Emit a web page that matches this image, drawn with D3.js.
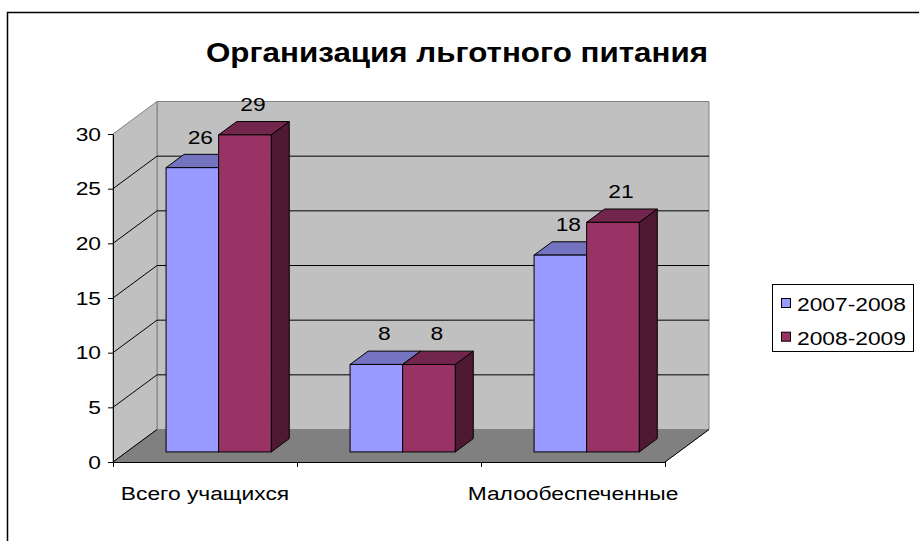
<!DOCTYPE html>
<html lang="ru">
<head>
<meta charset="utf-8">
<title>Организация льготного питания</title>
<script src="https://d3js.org/d3.v7.min.js"></script>
<style>
  body { margin: 0; background: #fff; }
  text { font-family: "Liberation Sans", Arial, sans-serif; fill: #000; }
</style>
</head>
<body>
<script>
// data
const categories = ["Всего учащихся", "", "Малообеспеченные"];
const seriesNames = ["2007-2008", "2008-2009"];
const values2007 = [26, 8, 18];
const values2008 = [29, 8, 21];
const yTicks = [0, 5, 10, 15, 20, 25, 30];

const colors = [
  {front: "#9999ff", top: "#7373bf", side: "#4d4d80"},
  {front: "#993366", top: "#73264d", side: "#4d1933"}
];

const w = 919, h = 541;
// 3d depth offset of the whole plot
const DX = 44, DY = -32.5;
const zFront = 0.31, zBack = 0.72;
// the source picture is stretched sideways, so text is too
const SX = 1.2, FS = 19;

const svg = d3.select("body").append("svg")
  .attr("width", w).attr("height", h);

// helper: text stretched horizontally around its anchor
function label(g, x, y, str, anchor, size, sx) {
  return g.append("text")
    .attr("transform", `translate(${x},${y}) scale(${sx},1)`)
    .attr("text-anchor", anchor)
    .attr("font-size", size)
    .text(str);
}

// outer frame
svg.append("rect")
  .attr("x", 7.5).attr("y", 12.5)
  .attr("width", 930).attr("height", 560)
  .attr("fill", "#fff").attr("stroke", "#000").attr("stroke-width", 1.5);

label(svg, 457, 62, "Организация льготного питания", "middle", 28, 1.12)
  .attr("font-weight", "bold");

const yScale = d3.scaleLinear().domain([0, 30]).range([462, 134]);
const x0 = d3.scaleBand().domain(d3.range(categories.length)).range([113, 665]);
const x1 = d3.scaleBand().domain(d3.range(seriesNames.length))
  .range([0, x0.bandwidth()]).paddingInner(0).paddingOuter(0.75);
const xLin = d3.scaleLinear().domain([0, categories.length]).range([113, 665]);

const X0 = 113, X1 = 665;
const Y0 = yScale(0), Ytop = yScale(30);
const pt = (x, y, z) => [x + z * DX, y + z * DY];

// walls
const walls = svg.append("g");
walls.append("polygon")
  .attr("points", [pt(X0, Y0, 1), pt(X1, Y0, 1), pt(X1, Ytop, 1), pt(X0, Ytop, 1)].join(" "))
  .attr("fill", "#c0c0c0").attr("stroke", "#808080");
walls.append("polygon")
  .attr("points", [pt(X0, Y0, 0), pt(X0, Ytop, 0), pt(X0, Ytop, 1), pt(X0, Y0, 1)].join(" "))
  .attr("fill", "#c0c0c0").attr("stroke", "#808080");
walls.append("polygon")
  .attr("points", [pt(X0, Y0, 0), pt(X1, Y0, 0), pt(X1, Y0, 1), pt(X0, Y0, 1)].join(" "))
  .attr("fill", "#808080").attr("stroke", "#808080");

// gridlines
const grid = yTicks.filter(v => v > 0 && v < 30);
walls.selectAll(".gb").data(grid).enter().append("line")
  .attr("x1", pt(X0, 0, 1)[0]).attr("x2", pt(X1, 0, 1)[0])
  .attr("y1", d => pt(0, yScale(d), 1)[1]).attr("y2", d => pt(0, yScale(d), 1)[1])
  .attr("stroke", "#000");
walls.selectAll(".gs").data(yTicks.filter(v => v < 30)).enter().append("line")
  .attr("x1", X0).attr("y1", d => yScale(d))
  .attr("x2", X0 + DX).attr("y2", d => yScale(d) + DY)
  .attr("stroke", "#000");
// floor right edge
walls.append("line")
  .attr("x1", X1).attr("y1", Y0).attr("x2", X1 + DX).attr("y2", Y0 + DY)
  .attr("stroke", "#000");

// axes
svg.append("g")
  .attr("transform", `translate(${X0},0)`)
  .call(d3.axisLeft(yScale).tickValues(yTicks).tickSize(5).tickSizeOuter(0).tickFormat(""))
  .call(g => g.selectAll("line, path").attr("stroke", "#000"));
const yLab = svg.append("g");
yTicks.forEach(v => {
  label(yLab, X0 - 12, yScale(v), v, "end", FS, SX).attr("dy", "0.35em");
});

svg.append("g")
  .attr("transform", `translate(0,${Y0})`)
  .call(d3.axisBottom(xLin).ticks(categories.length).tickSize(5).tickSizeOuter(0).tickFormat(""))
  .call(g => g.selectAll("line, path").attr("stroke", "#000"));

const catG = svg.append("g");
categories.forEach((c, i) => {
  label(catG, x0(i) + x0.bandwidth() / 2, 500, c, "middle", FS, SX);
});

// bars
const bars = [];
categories.forEach((c, i) => {
  [values2007[i], values2008[i]].forEach((v, s) => {
    bars.push({i, s, v});
  });
});

const bw = x1.bandwidth();
const ddx = (zBack - zFront) * DX, ddy = (zBack - zFront) * DY;
const barG = svg.append("g");
bars.forEach(b => {
  const xl = x0(b.i) + x1(b.s) + zFront * DX;
  const xr = xl + bw;
  const yb = yScale(0) + zFront * DY;
  const yt = yScale(b.v) + zFront * DY;
  const c = colors[b.s];
  barG.append("polygon")
    .attr("points", [[xr, yt], [xr + ddx, yt + ddy], [xr + ddx, yb + ddy], [xr, yb]].join(" "))
    .attr("fill", c.side).attr("stroke", "#000");
  barG.append("polygon")
    .attr("points", [[xl, yt], [xr, yt], [xr + ddx, yt + ddy], [xl + ddx, yt + ddy]].join(" "))
    .attr("fill", c.top).attr("stroke", "#000");
  barG.append("rect")
    .attr("x", xl).attr("y", yt).attr("width", bw).attr("height", yb - yt)
    .attr("fill", c.front).attr("stroke", "#000");
  label(barG, xl + bw / 2 + 8, yt - 24, b.v, "middle", FS, SX);
});

// legend
const lg = svg.append("g");
lg.append("rect")
  .attr("x", 772.5).attr("y", 284.5).attr("width", 141).attr("height", 67)
  .attr("fill", "#fff").attr("stroke", "#000");
seriesNames.forEach((name, s) => {
  lg.append("rect")
    .attr("x", 781.5).attr("y", 298.5 + s * 33.7).attr("width", 9).attr("height", 9)
    .attr("fill", colors[s].front).attr("stroke", "#000");
  label(lg, 797, 311 + s * 33.7, name, "start", FS, SX);
});
</script>
</body>
</html>
